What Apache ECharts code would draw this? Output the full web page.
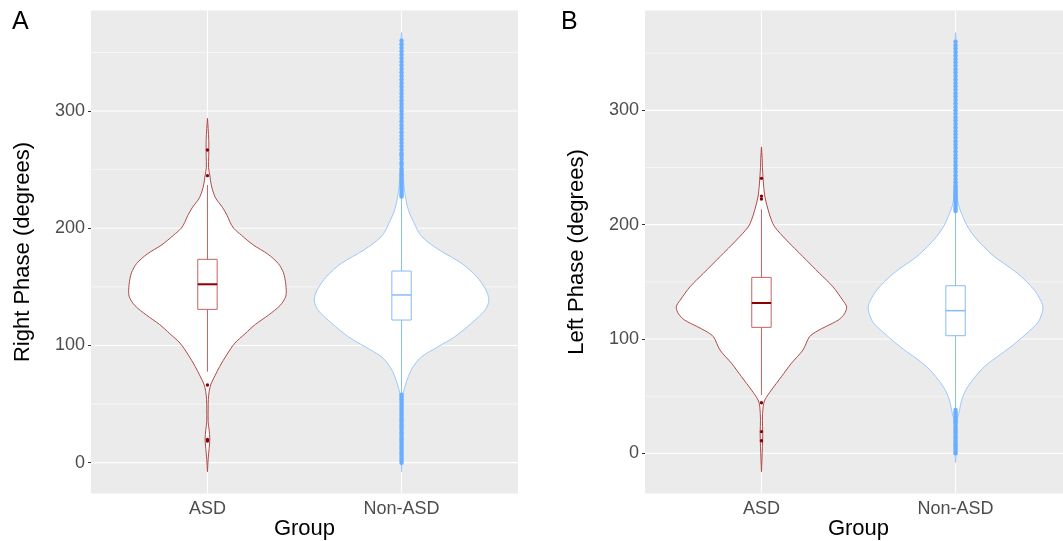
<!DOCTYPE html>
<html><head><meta charset="utf-8">
<script src="https://cdn.jsdelivr.net/npm/echarts@6/dist/echarts.min.js"></script>
<style>html,body{margin:0;padding:0;background:#fff}#c{width:1063px;height:541px}</style>
</head><body><div id="c"></div>
<script>
// ---------------- data ----------------
const categories = ['ASD', 'Non-ASD'];
const yTicks = [0, 100, 200, 300];
const yMinor = [50, 150, 250, 350];
const panelLabels = ['A', 'B'];
const yTitles = ['Right Phase (degrees)', 'Left Phase (degrees)'];
const xTitle = 'Group';

// violin outlines: [value, relative half-width]
const violinA_ASD = [[293.8,0],[285,0.008],[275,0.015],[262,0.015],[252,0.012],[245,0.027],[236,0.046],[226,0.092],[218,0.17],[211,0.225],[205,0.26],[200,0.3],[194,0.39],[186,0.52],[178,0.69],[170,0.81],[162,0.87],[152,0.897],[142,0.897],[134,0.83],[126,0.7],[118,0.55],[110,0.43],[102,0.314],[92,0.22],[82,0.14],[74,0.085],[67,0.04],[61,0.02],[54,0.01],[45,0.008],[35,0.008],[28,0.019],[20,0.027],[12,0.019],[3,0.008],[-7.7,0]];
const violinA_Non = [[367,0],[360,0.006],[300,0.006],[255,0.008],[244,0.019],[230,0.038],[216,0.077],[204,0.146],[193,0.23],[181.5,0.43],[170,0.69],[158.7,0.86],[147.3,0.966],[138.8,1.0],[130.3,0.958],[119,0.8],[107.5,0.61],[99,0.42],[90.4,0.23],[82,0.134],[73.4,0.077],[59,0.019],[45,0.008],[20,0.006],[-7.7,0]];
const violinB_ASD = [[268,0],[258,0.008],[250,0.011],[240,0.019],[225,0.038],[213,0.076],[204,0.114],[198,0.152],[186.6,0.285],[172,0.475],[157.4,0.665],[145.8,0.817],[134,0.93],[128.3,0.975],[122,0.95],[116.6,0.88],[111,0.74],[107,0.64],[102,0.55],[90.4,0.475],[78.7,0.342],[67,0.228],[55.4,0.114],[46.6,0.038],[40.8,0.019],[29,0.011],[17.5,0.015],[5.8,0.011],[-16,0]];
const violinB_Non = [[368,0],[361,0.006],[300,0.006],[245,0.01],[233,0.015],[218.6,0.03],[207,0.084],[198,0.14],[189.5,0.217],[181,0.32],[172,0.445],[157.4,0.71],[142.9,0.9],[128.3,1.0],[116.6,0.96],[110.8,0.9],[93.3,0.635],[75.8,0.33],[58.3,0.14],[46.6,0.07],[37.9,0.046],[25,0.01],[0,0.006],[-8,0]];

// boxes: [lower whisker, Q1, median, Q3, upper whisker]
const boxA_ASD = [77.6, 130.8, 152.2, 173.5, 236.9];
const boxA_Non = [59, 121.7, 143.1, 163.5, 226.4];
const boxB_ASD = [51, 110.2, 131.5, 153.9, 213.4];
const boxB_Non = [39.4, 102.9, 124.8, 146.6, 211];

// outliers
const outA_ASD = [266.8, 244.9, 66.3, 19.9, 18.5];
const outA_Non = [227,229,231,233,235,237,239,241,243,245,247,249,251,254,256,259,262,264,267,270,273,276,279,282,285,288,291,294,297,300,303,306,309,312,315,318,321,324,327,330,333,336,339,342,345,348,351,354,357,360,
  58,56,54,52,50,48,46,44,42,40,38,36,34,32,30,28,26,24,22,20,18,16,14,12,10,8,6,4,2,0];
const outB_ASD = [240.5, 225, 222.5, 44.3, 19, 11];
const outB_Non = [212,214,216,218,220,222,224,226,228,230,232,234,237,240,243,246,249,252,255,258,261,264,267,270,273,276,279,282,285,288,291,294,297,300,303,306,309,312,315,318,321,324,327,330,333,336,339,342,345,348,351,354,357,360,
  38,36,34,32,30,28,26,24,22,20,18,16,14,12,10,8,6,4,2,0];

const yRanges = [[-26.4, 385.9], [-35.2, 387.4]];

// ---------------- styles ----------------
const FONT = 'Liberation Sans, Arial, sans-serif';
const HALF = 0.45;   // violin max half width (category units)
const BOXH = 0.05;   // box half width
const sty = [
  {violin:'#b04a4a', box:'#c46363', median:'#8b0000', pt:'#8b0000', ptSize:3.4, medW:2},
  {violin:'#9cc8ff', box:'#86bbff', median:'#86bbff', pt:'#6aaeff', ptSize:4.5, medW:1.5}
];

const panels = [
  {violins:[violinA_ASD, violinA_Non], boxes:[boxA_ASD, boxA_Non], outs:[outA_ASD, outA_Non]},
  {violins:[violinB_ASD, violinB_Non], boxes:[boxB_ASD, boxB_Non], outs:[outB_ASD, outB_Non]}
];
const gridPos = [{left:91, top:10.4, width:427, height:483.2}, {left:645, top:10.4, width:427, height:483.2}];

const chart = echarts.init(document.getElementById('c'), null, {renderer:'canvas'});
const grids = [], xAxes = [], yAxes = [], series = [];

panels.forEach((P, pi) => {
  grids.push(Object.assign({show:true, backgroundColor:'#ebebeb', borderWidth:0, containLabel:false, outerBoundsMode:'none'}, gridPos[pi]));
  xAxes.push({
    type:'value', gridIndex:pi, min:0.4, max:2.6,
    axisLine:{show:false}, splitLine:{show:false},
    axisTick:{show:true, customValues:[1,2], length:3, lineStyle:{color:'#333'}},
    axisLabel:{show:true, customValues:[1,2], margin:6, color:'#4d4d4d', fontSize:18, fontFamily:FONT,
      formatter: v => categories[Math.round(v)-1] || ''},
    name:xTitle, nameLocation:'middle', nameGap:24, nameMoveOverlap:false,
    nameTextStyle:{fontSize:22, color:'#000', fontFamily:FONT}
  });
  yAxes.push({
    type:'value', gridIndex:pi, min:yRanges[pi][0], max:yRanges[pi][1],
    axisLine:{show:false}, splitLine:{show:false},
    axisTick:{show:true, customValues:yTicks, length:3, lineStyle:{color:'#333'}},
    axisLabel:{show:true, customValues:yTicks, margin:6, color:'#4d4d4d', fontSize:18, fontFamily:FONT},
    name:yTitles[pi], nameLocation:'middle', nameGap:57, nameMoveOverlap:false,
    nameTextStyle:{fontSize:22, color:'#000', fontFamily:FONT}
  });

  // grid lines
  const gl = [];
  yTicks.forEach(v => gl.push([1, v, 0]));
  yMinor.forEach(v => gl.push([1, v, 1]));
  categories.forEach((c, i) => gl.push([i+1, 0, 2]));
  series.push({
    type:'custom', xAxisIndex:pi, yAxisIndex:pi, z:1, silent:true, data:gl,
    renderItem:(params, api) => {
      const cs = params.coordSys;
      const kind = api.value(2);
      if (kind === 2) {
        const x = api.coord([api.value(0), 0])[0];
        return {type:'line', shape:{x1:x, y1:cs.y, x2:x, y2:cs.y+cs.height}, style:{stroke:'#fff', lineWidth:1.1}};
      }
      const y = api.coord([1, api.value(1)])[1];
      return {type:'line', shape:{x1:cs.x, y1:y, x2:cs.x+cs.width, y2:y},
        style:{stroke:'#fff', lineWidth: kind === 0 ? 1.1 : 0.55}};
    }
  });

  // violins
  series.push({
    type:'custom', xAxisIndex:pi, yAxisIndex:pi, z:2, silent:true,
    data: categories.map((c, i) => [i+1, P.boxes[i][2]]),
    renderItem:(params, api) => {
      const i = params.dataIndex, cat = api.value(0);
      const prof = P.violins[i];
      const right = prof.map(p => api.coord([cat + p[1]*HALF, p[0]]));
      const left = prof.slice().reverse().map(p => api.coord([cat - p[1]*HALF, p[0]]));
      return {type:'polygon', shape:{points:right.concat(left), smooth:0.3},
        style:{fill:'#fff', stroke:sty[i].violin, lineWidth:1}};
    }
  });

  // boxes
  series.push({
    type:'custom', xAxisIndex:pi, yAxisIndex:pi, z:3, silent:true,
    data: categories.map((c, i) => [i+1].concat(P.boxes[i])),
    renderItem:(params, api) => {
      const i = params.dataIndex, cat = api.value(0);
      const lw = api.value(1), q1 = api.value(2), md = api.value(3), q3 = api.value(4), uw = api.value(5);
      const a = api.coord([cat - BOXH, q3]), b = api.coord([cat + BOXH, q1]);
      const c0 = api.coord([cat, uw]), c1 = api.coord([cat, q3]), c2 = api.coord([cat, q1]), c3 = api.coord([cat, lw]);
      const m0 = api.coord([cat - BOXH, md]), m1 = api.coord([cat + BOXH, md]);
      const s = sty[i];
      return {type:'group', children:[
        {type:'line', shape:{x1:c0[0], y1:c0[1], x2:c1[0], y2:c1[1]}, style:{stroke:s.box, lineWidth:1}},
        {type:'line', shape:{x1:c2[0], y1:c2[1], x2:c3[0], y2:c3[1]}, style:{stroke:s.box, lineWidth:1}},
        {type:'rect', shape:{x:a[0], y:a[1], width:b[0]-a[0], height:b[1]-a[1]}, style:{fill:'rgba(255,255,255,0)', stroke:s.box, lineWidth:1}},
        {type:'line', shape:{x1:m0[0], y1:m0[1], x2:m1[0], y2:m1[1]}, style:{stroke:s.median, lineWidth:s.medW}}
      ]};
    }
  });

  // outliers
  categories.forEach((c, i) => {
    series.push({
      type:'scatter', xAxisIndex:pi, yAxisIndex:pi, z:4, silent:true,
      symbol:'circle', symbolSize:sty[i].ptSize,
      itemStyle:{color:sty[i].pt, opacity:1},
      data: P.outs[i].map(v => [i+1, v])
    });
  });
});

chart.setOption({
  animation:false,
  backgroundColor:'#fff',
  grid:grids, xAxis:xAxes, yAxis:yAxes, series:series,
  graphic: panelLabels.map((t, i) => ({
    type:'text', left: i === 0 ? 12 : 561, top: 10,
    style:{text:t, fontSize:25, fontFamily:FONT, fill:'#000'}
  }))
});
</script></body></html>
